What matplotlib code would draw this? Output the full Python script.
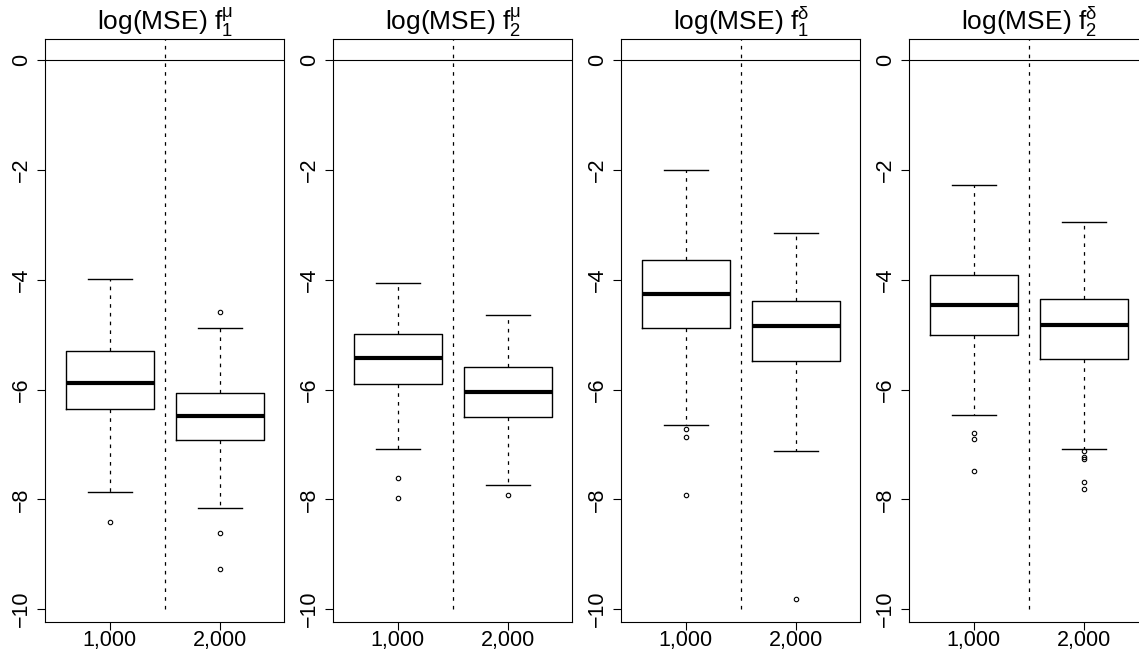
import matplotlib
matplotlib.use("Agg")
import matplotlib.pyplot as plt

plt.rcParams['font.family'] = ['Liberation Sans', 'DejaVu Sans']
plt.rcParams['mathtext.fontset'] = 'custom'
plt.rcParams['mathtext.rm'] = 'Liberation Sans'
plt.rcParams['mathtext.it'] = 'Liberation Sans:italic'
plt.rcParams['mathtext.sf'] = 'Liberation Sans'

# ---------------- data ----------------
titles = [r'log(MSE) $\mathrm{f}_1^{\mathrm{\mu}}$', r'log(MSE) $\mathrm{f}_2^{\mathrm{\mu}}$',
          r'log(MSE) $\mathrm{f}_1^{\mathrm{\delta}}$', r'log(MSE) $\mathrm{f}_2^{\mathrm{\delta}}$']
groups = ['1,000', '2,000']

# per panel: [n=1000, n=2000]
whislo = [[-7.87, -8.16], [-7.08, -7.74], [-6.65, -7.12], [-6.46, -7.08]]
q1     = [[-6.36, -6.91], [-5.89, -6.50], [-4.87, -5.48], [-5.00, -5.44]]
med    = [[-5.88, -6.48], [-5.42, -6.04], [-4.26, -4.84], [-4.45, -4.82]]
q3     = [[-5.30, -6.06], [-4.99, -5.58], [-3.63, -4.38], [-3.91, -4.35]]
whishi = [[-3.99, -4.87], [-4.06, -4.65], [-1.99, -3.15], [-2.27, -2.95]]
fliers = [
    [[-8.42], [-4.58, -8.61, -9.27]],
    [[-7.62, -7.97], [-7.92]],
    [[-6.72, -6.87, -7.92], [-9.82]],
    [[-6.79, -6.90, -7.49], [-7.12, -7.23, -7.26, -7.68, -7.82]],
]
yticks = [-10, -8, -6, -4, -2, 0]

# ---------------- figure ----------------
W, H = 1139, 655
fig = plt.figure(figsize=(W / 100, H / 100), dpi=100)

ax_w, ax_h = 239, 583
ax_bottom = 33.3
lefts = [45.3 + 288 * i for i in range(4)]
dash = (0, (2.9, 4.1))

for p in range(4):
    ax = fig.add_axes([lefts[p] / W, ax_bottom / H, ax_w / W, ax_h / H])
    stats = []
    for g in range(2):
        stats.append(dict(whislo=whislo[p][g], q1=q1[p][g], med=med[p][g],
                          q3=q3[p][g], whishi=whishi[p][g], fliers=fliers[p][g],
                          label=groups[g]))
    ax.bxp(stats, positions=[1, 2], widths=0.8, patch_artist=False,
           boxprops=dict(color='black', linewidth=1.0),
           medianprops=dict(color='black', linewidth=3.0, solid_capstyle='butt'),
           whiskerprops=dict(color='black', linewidth=0.9, linestyle=dash),
           capprops=dict(color='black', linewidth=1.0),
           capwidths=0.4,
           flierprops=dict(marker='o', markersize=3.2, markerfacecolor='none',
                           markeredgecolor='black', markeredgewidth=0.8, linestyle='none'))
    ax.axhline(0, color='black', linewidth=0.8)
    ax.plot([1.5, 1.5], [-10, 1], color='black', linewidth=0.9, linestyle=dash)
    ax.set_xlim(0.415, 2.585)
    ax.set_ylim(-10.23, 0.394)
    ax.set_xticks([1, 2])
    ax.set_xticklabels(groups, fontsize=15.5)
    ax.set_yticks(yticks)
    ax.set_yticklabels([str(t).replace('-', '\u2212') for t in yticks],
                       rotation=90, va='center', fontsize=15.5)
    ax.tick_params(axis='both', direction='out', length=5.6, width=0.8, color='black')
    ax.tick_params(axis='y', pad=4)
    ax.tick_params(axis='x', pad=0.5)
    for s in ax.spines.values():
        s.set_linewidth(0.8)
        s.set_color('black')
    ax.set_title(titles[p], fontsize=19, pad=3)

fig.savefig('out.png', dpi=100)
